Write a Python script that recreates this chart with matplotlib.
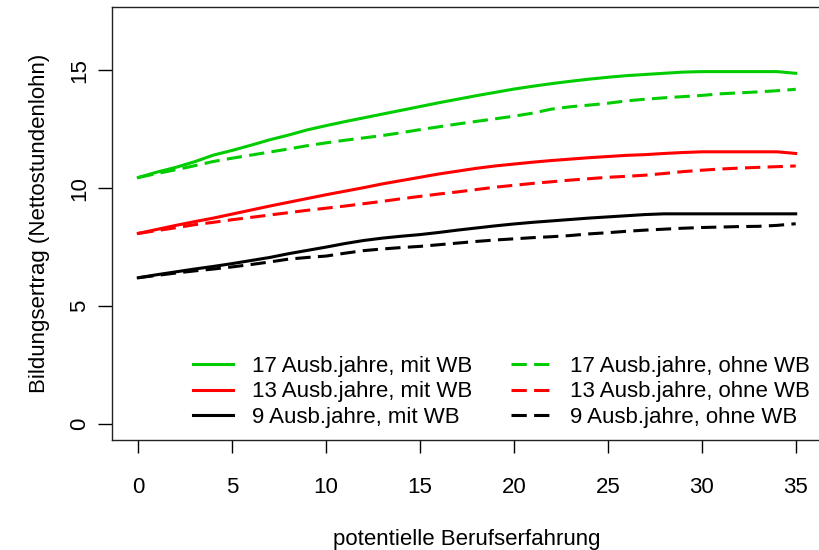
import numpy as np
import matplotlib
matplotlib.use('Agg')

import matplotlib.pyplot as plt

plt.rcParams['font.family'] = ['Liberation Sans', 'DejaVu Sans']

# potential work experience in years
years = np.arange(0, 36)

# net hourly wage, with further training (mit WB)
mit_17 = [10.45, 10.68, 10.88, 11.12, 11.40, 11.60, 11.82, 12.05, 12.25, 12.47,
          12.65, 12.82, 12.98, 13.14, 13.30, 13.46, 13.62, 13.77, 13.92, 14.06,
          14.20, 14.32, 14.43, 14.53, 14.62, 14.70, 14.77, 14.82, 14.87, 14.92,
          14.94, 14.94, 14.94, 14.94, 14.94, 14.87]
mit_13 = [8.08, 8.25, 8.42, 8.58, 8.73, 8.90, 9.07, 9.24, 9.40, 9.56,
          9.72, 9.87, 10.02, 10.18, 10.32, 10.46, 10.60, 10.72, 10.84, 10.94,
          11.02, 11.10, 11.17, 11.23, 11.29, 11.34, 11.39, 11.42, 11.47, 11.51,
          11.54, 11.54, 11.54, 11.54, 11.54, 11.47]
mit_9 = [6.20, 6.33, 6.45, 6.57, 6.68, 6.80, 6.93, 7.06, 7.22, 7.36,
         7.50, 7.65, 7.78, 7.88, 7.96, 8.03, 8.12, 8.22, 8.31, 8.40,
         8.48, 8.55, 8.61, 8.67, 8.73, 8.78, 8.83, 8.88, 8.91, 8.91,
         8.91, 8.91, 8.91, 8.91, 8.91, 8.91]

# net hourly wage, without further training (ohne WB)
ohne_17 = [10.45, 10.62, 10.78, 10.95, 11.13, 11.27, 11.40, 11.53, 11.66, 11.80,
           11.92, 12.03, 12.13, 12.23, 12.35, 12.48, 12.60, 12.72, 12.83, 12.94,
           13.05, 13.18, 13.35, 13.45, 13.52, 13.60, 13.70, 13.77, 13.83, 13.88,
           13.93, 14.00, 14.04, 14.08, 14.13, 14.19]
ohne_13 = [8.08, 8.20, 8.32, 8.45, 8.55, 8.66, 8.76, 8.86, 8.96, 9.06,
           9.15, 9.24, 9.34, 9.44, 9.55, 9.65, 9.75, 9.84, 9.94, 10.04,
           10.12, 10.20, 10.27, 10.34, 10.40, 10.46, 10.50, 10.55, 10.62, 10.70,
           10.76, 10.81, 10.85, 10.88, 10.91, 10.94]
ohne_9 = [6.20, 6.30, 6.40, 6.49, 6.57, 6.66, 6.76, 6.87, 6.99, 7.06,
          7.12, 7.24, 7.35, 7.42, 7.48, 7.53, 7.60, 7.67, 7.74, 7.80,
          7.85, 7.90, 7.94, 7.99, 8.06, 8.11, 8.17, 8.22, 8.26, 8.30,
          8.33, 8.35, 8.37, 8.38, 8.42, 8.49]

green = '#00CD00'
red = '#FF0000'
black = '#000000'
dash = (0, (5, 2.4))
lw = 2.2

fig = plt.figure(figsize=(8.2, 5.5), dpi=100)
ax = fig.add_axes([112 / 820, 110 / 550, 710 / 820, 433 / 550])

ax.plot(years, mit_17, color=green, lw=lw, label='17 Ausb.jahre, mit WB')
ax.plot(years, mit_13, color=red, lw=lw, label='13 Ausb.jahre, mit WB')
ax.plot(years, mit_9, color=black, lw=lw, label='9 Ausb.jahre, mit WB')
ax.plot(years, ohne_17, color=green, lw=lw, ls=dash, label='17 Ausb.jahre, ohne WB')
ax.plot(years, ohne_13, color=red, lw=lw, ls=dash, label='13 Ausb.jahre, ohne WB')
ax.plot(years, ohne_9, color=black, lw=lw, ls=dash, label='9 Ausb.jahre, ohne WB')

ax.set_xlim(-1.4, 36.4)
ax.set_ylim(-0.68, 17.68)
ax.set_xticks(range(0, 36, 5))
ax.set_yticks([0, 5, 10, 15])

for s in ax.spines.values():
    s.set_linewidth(1.0)
    s.set_color('#222222')

ax.tick_params(axis='x', length=9.5, width=1.0, pad=17, labelsize=16)
ax.tick_params(axis='y', length=10, width=1.0, pad=5.5, labelsize=16,
               labelrotation=90)
for t in ax.get_yticklabels():
    t.set_verticalalignment('center')

ax.set_xlabel('potentielle Berufserfahrung', fontsize=16, labelpad=0)
ax.xaxis.set_label_coords(0.5, -0.205)
ax.set_ylabel('Bildungsertrag (Nettostundenlohn)', fontsize=16)
ax.yaxis.set_label_coords(-0.087, 0.5)

ax.legend(loc='upper left', bbox_to_anchor=(193 / 820, 1 - 356 / 550),
          bbox_transform=fig.transFigure, ncol=2, frameon=False,
          fontsize=16, handlelength=1.8, handletextpad=0.86,
          columnspacing=1.74, labelspacing=0.2, borderpad=0, borderaxespad=0)

fig.savefig('out.png', dpi=100)
